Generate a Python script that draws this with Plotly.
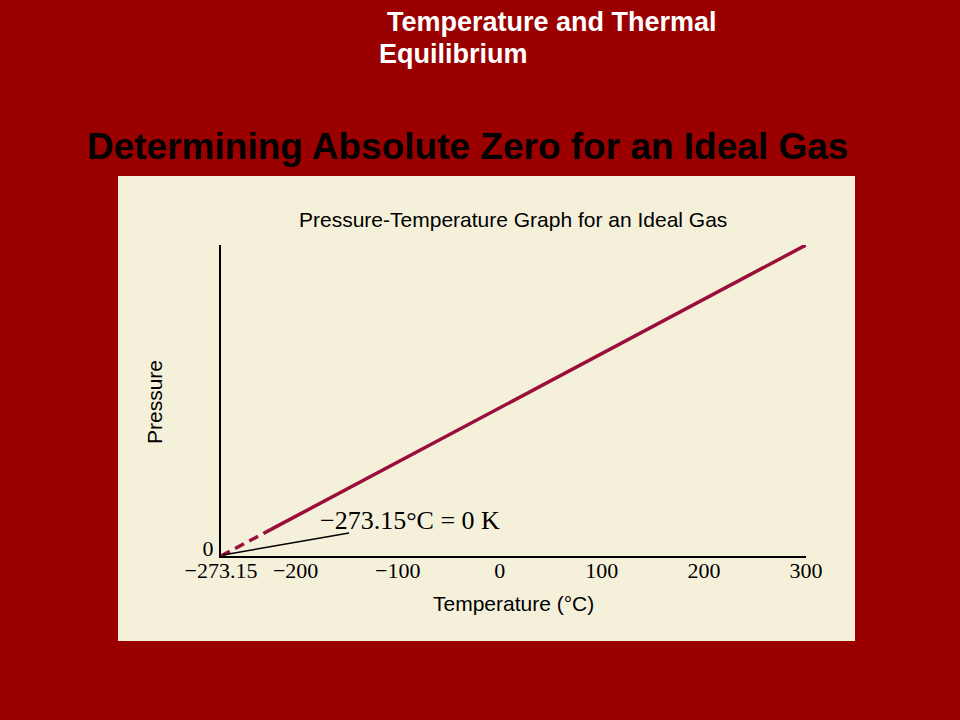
import plotly.graph_objects as go

# Data
temp_dashed = [-273.15, -225.0]
press_dashed = [0.0, 48.15]
temp_solid = [-225.0, 300.0]
press_solid = [48.15, 573.15]
xtick_vals = [-273.15, -200, -100, 0, 100, 200, 300]
xtick_text = ["\u2212273.15", "\u2212200", "\u2212100", "0", "100", "200", "300"]
ytick_vals = [0]
ytick_text = ["0"]

W, H = 960, 720
L, R, T, B = 221, 806, 245, 556  # plot area in pixels


def px(x):
    return (x - L) / (R - L)


def py(y):
    return (B - y) / (B - T)


LINE = "#9b0e3a"
BG = "#9a0000"
PANEL = "#f5f0da"

fig = go.Figure()
fig.add_trace(go.Scatter(x=temp_dashed, y=press_dashed, mode="lines",
                         line=dict(color=LINE, width=3.5, dash="10px,6px"),
                         showlegend=False, hoverinfo="skip"))
fig.add_trace(go.Scatter(x=temp_solid, y=press_solid, mode="lines",
                         line=dict(color=LINE, width=3.5),
                         showlegend=False, hoverinfo="skip"))

serif = "Liberation Serif"
sans = "Liberation Sans"

fig.update_layout(
    width=W, height=H,
    paper_bgcolor=BG, plot_bgcolor=PANEL,
    margin=dict(l=L, r=W - R, t=T, b=H - B, pad=0),
    xaxis=dict(range=[-273.15, 300], tickvals=xtick_vals, ticktext=xtick_text,
               showgrid=False, zeroline=False, showline=True, linecolor="black",
               linewidth=2, ticks="", ticklabelstandoff=-6,
               tickfont=dict(family=serif, size=22, color="black"),
               fixedrange=True),
    yaxis=dict(range=[0, 573.15], tickvals=ytick_vals, ticktext=ytick_text,
               showgrid=False, zeroline=False, showline=True, linecolor="black",
               linewidth=2, ticks="", ticklabelstandoff=1, ticklabelshift=-8,
               tickfont=dict(family=serif, size=22, color="black"),
               fixedrange=True),
    shapes=[
        dict(type="rect", xref="paper", yref="paper", layer="below",
             x0=px(118), x1=px(855), y0=py(641), y1=py(176),
             fillcolor=PANEL, line=dict(width=0)),
        dict(type="line", xref="paper", yref="paper",
             x0=px(223), y0=py(555), x1=px(349), y1=py(533),
             line=dict(color="black", width=1.5)),
    ],
    annotations=[
        dict(text="<b>Temperature and Thermal</b>", xref="paper", yref="paper",
             x=px(385), y=py(22), xanchor="left", yanchor="middle", showarrow=False,
             font=dict(family=sans, size=27, color="white")),
        dict(text="<b>Equilibrium</b>", xref="paper", yref="paper",
             x=px(377), y=py(54), xanchor="left", yanchor="middle", showarrow=False,
             font=dict(family=sans, size=27, color="white")),
        dict(text="<b>Determining Absolute Zero for an Ideal Gas</b>", xref="paper", yref="paper",
             x=px(467), y=py(146), xanchor="center", yanchor="middle", showarrow=False,
             font=dict(family=sans, size=37, color="black")),
        dict(text="Pressure-Temperature Graph for an Ideal Gas", xref="paper", yref="paper",
             x=px(513), y=py(220), xanchor="center", yanchor="middle", showarrow=False,
             font=dict(family=sans, size=21, color="black")),
        dict(text="Temperature (°C)", xref="paper", yref="paper",
             x=px(513), y=py(603), xanchor="center", yanchor="middle", showarrow=False,
             font=dict(family=sans, size=21, color="black")),
        dict(text="Pressure", xref="paper", yref="paper", textangle=-90,
             x=px(154), y=py(402), xanchor="center", yanchor="middle", showarrow=False,
             font=dict(family=sans, size=21, color="black")),
        dict(text="\u2212273.15°C = 0 K", xref="paper", yref="paper",
             x=px(410), y=py(520), xanchor="center", yanchor="middle", showarrow=False,
             font=dict(family=serif, size=26, color="black")),
    ],
)

fig.write_html("out.html", config={"displayModeBar": False},
               post_script="document.body.style.margin='0';")
